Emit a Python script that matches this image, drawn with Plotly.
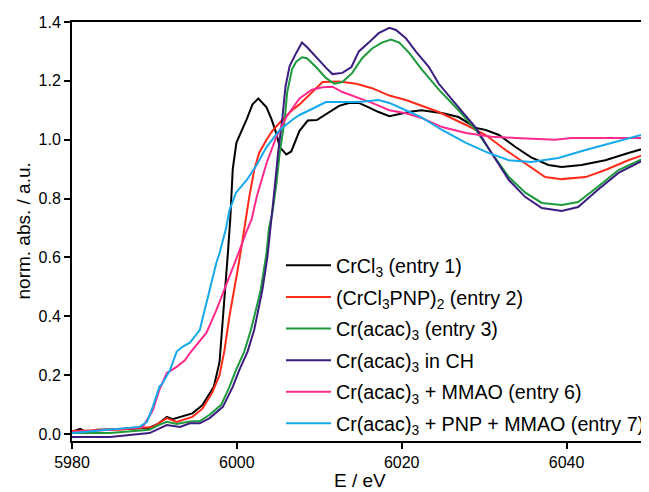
import plotly.graph_objects as go

# ---------------- data ----------------
e_crcl3 = [5980, 5981, 5981.9, 5983, 5986.7, 5989.4, 5990.5, 5991.5, 5992.2, 5994.6, 5995.8,
           5997.2, 5997.9, 5998.3, 5998.6, 5998.9, 5999.2, 5999.5, 5999.95, 6000.6, 6001.2,
           6001.9, 6002.6, 6003.6, 6004.2, 6004.8, 6005.2, 6006.0, 6006.6, 6007.6, 6008.6,
           6009.7, 6011.2, 6012.4, 6013.6, 6014.8, 6016.0, 6017.2, 6018.5, 6019.7, 6021.0,
           6022.4, 6024.1, 6025.0, 6026.9, 6029.0, 6030.2, 6031.8, 6033.8, 6035.7, 6037.8,
           6039.4, 6041.8, 6044.7, 6047.5, 6050]
v_crcl3 = [0.007, 0.017, 0.003, 0.014, 0.017, 0.021, 0.035, 0.058, 0.05, 0.07, 0.097,
           0.16, 0.245, 0.38, 0.5, 0.61, 0.73, 0.90, 0.99, 1.03, 1.07,
           1.12, 1.14, 1.11, 1.07, 1.02, 0.975, 0.95, 0.96, 1.03, 1.065,
           1.067, 1.094, 1.115, 1.125, 1.125, 1.11, 1.094, 1.08, 1.088, 1.095,
           1.10, 1.095, 1.09, 1.077, 1.04, 1.033, 1.016, 0.975, 0.94, 0.914,
           0.907, 0.914, 0.93, 0.955, 0.975]

e_pnp = [5980, 5983, 5986, 5989.8, 5991.5, 5992.7, 5994.6, 5995.8, 5997.0, 5997.9, 5998.5,
         5999.1, 5999.5, 6000.1, 6000.7, 6001.2, 6001.5, 6002.1, 6002.7, 6003.6, 6004.3,
         6005.5, 6006.7, 6007.6, 6009.1, 6010.4, 6012.4, 6014.5, 6016.4, 6018.5, 6020.5,
         6022.4, 6024.5, 6027.8, 6030.2, 6032.6, 6035.0, 6037.4, 6039.4, 6042.3, 6044.7,
         6047.5, 6050]
v_pnp = [0.01, 0.012, 0.015, 0.024, 0.054, 0.041, 0.058, 0.085, 0.14, 0.2, 0.285,
         0.40, 0.46, 0.557, 0.66, 0.76, 0.805, 0.897, 0.955, 1.0, 1.03,
         1.067, 1.10, 1.12, 1.16, 1.196, 1.198, 1.19, 1.175, 1.15, 1.135,
         1.115, 1.094, 1.05, 1.016, 0.965, 0.92, 0.873, 0.866, 0.873, 0.897,
         0.93, 0.955]

e_acac = [5980, 5984.6, 5989.4, 5990.5, 5991.5, 5992.7, 5994.3, 5995.5, 5996.7, 5998.1,
          5999.1, 5999.9, 6000.9, 6001.7, 6002.3, 6002.9, 6003.6, 6003.9, 6004.3, 6004.8,
          6005.2, 6005.8, 6006.1, 6006.7, 6007.2, 6007.9, 6008.5, 6009.6, 6010.8, 6011.8,
          6012.8, 6014.0, 6015.2, 6016.4, 6017.6, 6018.7, 6019.7, 6020.9, 6022.4, 6024.5,
          6026.9, 6029.0, 6030.9, 6033.0, 6035.0, 6037.0, 6039.4, 6041.4, 6043.8, 6046.3,
          6050]
v_acac = [0.003, 0.003, 0.014, 0.03, 0.041, 0.034, 0.042, 0.044, 0.065, 0.099,
          0.16, 0.218, 0.28, 0.353, 0.42, 0.49, 0.615, 0.70, 0.75, 0.85,
          0.955, 1.067, 1.16, 1.24, 1.265, 1.28, 1.277, 1.247, 1.21, 1.19,
          1.196, 1.227, 1.277, 1.31, 1.33, 1.34, 1.33, 1.295, 1.24, 1.17,
          1.10, 1.033, 0.955, 0.873, 0.82, 0.785, 0.778, 0.788, 0.84, 0.897,
          0.945]

e_ch = [5980, 5984.6, 5989.4, 5991.5, 5993.1, 5994.3, 5995.5, 5996.7, 5998.3, 5999.5,
        6000.3, 6001.3, 6002.1, 6002.6, 6003.1, 6003.7, 6004.2, 6004.6, 6005.0, 6005.5,
        6005.9, 6006.4, 6007.2, 6007.9, 6008.5, 6009.6, 6010.8, 6011.6, 6012.8, 6013.9,
        6014.8, 6016.0, 6017.2, 6018.5, 6019.3, 6020.5, 6021.7, 6023.3, 6024.5, 6026.9,
        6029.0, 6030.9, 6033.0, 6035.0, 6037.0, 6039.4, 6041.4, 6043.8, 6046.3, 6050]
v_ch = [-0.01, -0.01, 0.003, 0.03, 0.024, 0.036, 0.036, 0.054, 0.092, 0.16,
        0.218, 0.28, 0.353, 0.42, 0.49, 0.6, 0.727, 0.84, 0.955, 1.067,
        1.18, 1.25, 1.295, 1.33, 1.315, 1.28, 1.245, 1.223, 1.227, 1.247,
        1.30, 1.33, 1.362, 1.38, 1.373, 1.345, 1.30, 1.247, 1.19, 1.11,
        1.04, 0.955, 0.863, 0.805, 0.768, 0.758, 0.771, 0.83, 0.887, 0.94]

e_mmao = [5980, 5984.6, 5988.6, 5989.8, 5990.6, 5991.5, 5992.7, 5993.7, 5994.3, 5996.3,
          5997.5, 5998.5, 6000.0, 6001.2, 6001.8, 6002.4, 6003.6, 6004.8, 6006.0, 6007.6,
          6009.1, 6010.4, 6011.6, 6012.8, 6014.5, 6016.4, 6018.5, 6020.5, 6022.4, 6024.9,
          6027.8, 6030.9, 6033.8, 6038.6, 6040.6, 6050]
v_mmao = [0.007, 0.014, 0.024, 0.08, 0.15, 0.207, 0.228, 0.25, 0.275, 0.343,
          0.42, 0.49, 0.60, 0.69, 0.73, 0.805, 0.92, 1.01, 1.077, 1.14,
          1.17, 1.178, 1.18, 1.162, 1.145, 1.125, 1.10, 1.09, 1.074, 1.043,
          1.023, 1.01, 1.006, 1.0, 1.006, 1.006]

e_pnp_mmao = [5980, 5984.6, 5988.2, 5989.1, 5989.8, 5990.6, 5991.0, 5991.9, 5992.7, 5993.4,
              5994.3, 5995.5, 5996.7, 5997.5, 5997.9, 5998.7, 5999.1, 5999.9, 6001.2, 6002.4,
              6003.6, 6005.2, 6006.7, 6007.6, 6008.8, 6010.8, 6012.8, 6014.8, 6017.2, 6018.5,
              6020.5, 6022.4, 6024.9, 6027.8, 6030.5, 6033.0, 6035.7, 6039.0, 6042.3, 6045.9,
              6050]
v_pnp_mmao = [0.003, 0.014, 0.024, 0.041, 0.092, 0.16, 0.173, 0.217, 0.28, 0.296,
              0.31, 0.353, 0.49, 0.58, 0.615, 0.70, 0.76, 0.82, 0.863, 0.914,
              0.975, 1.033, 1.067, 1.084, 1.10, 1.128, 1.128, 1.128, 1.135, 1.125,
              1.10, 1.076, 1.033, 0.989, 0.955, 0.93, 0.924, 0.938, 0.965, 0.992,
              1.023]

names = [
    "CrCl<sub>3</sub> (entry 1)",
    "(CrCl<sub>3</sub>PNP)<sub>2</sub> (entry 2)",
    "Cr(acac)<sub>3</sub> (entry 3)",
    "Cr(acac)<sub>3</sub> in CH",
    "Cr(acac)<sub>3</sub> + MMAO (entry 6)",
    "Cr(acac)<sub>3</sub> + PNP + MMAO (entry 7)",
]
colors = ["#000000", "#ff2a1a", "#1c9a3c", "#3b1d80", "#ff2a8c", "#14a9ea"]
series = [(e_crcl3, v_crcl3), (e_pnp, v_pnp), (e_acac, v_acac),
          (e_ch, v_ch), (e_mmao, v_mmao), (e_pnp_mmao, v_pnp_mmao)]

xticks = [5980, 6000, 6020, 6040]
yticks = [0.0, 0.2, 0.4, 0.6, 0.8, 1.0, 1.2, 1.4]

FONT = "Arial, Liberation Sans, sans-serif"

# The page body adds an 8 px margin; the figure is sized so the plot lands where the
# reference has it (x 72..649, y 22..441 window pixels).
OFF = 8
PL, PT, PR, PB = 72 - OFF, 22 - OFF, 649 - OFF, 441 - OFF
W, H = PR, 492 - OFF
PW, PH = PR - PL, PB - PT

fig = go.Figure()
for i, ((xs, ys), nm, col) in enumerate(zip(series, names, colors)):
    fig.add_trace(go.Scatter(x=xs, y=ys, mode="lines", name=nm,
                             legendgroup=f"g{i}",
                             line=dict(color=col, width=2)))

fig.update_layout(
    width=W, height=H,
    margin=dict(l=PL, r=W - PR, t=PT, b=H - PB, autoexpand=False),
    paper_bgcolor="white", plot_bgcolor="white",
    font=dict(family=FONT, color="black"),
    showlegend=True,
    legend=dict(x=(281 - 72) / PW, y=(441 - 246) / PH, xanchor="left", yanchor="top",
                font=dict(size=19.7, family=FONT), bgcolor="rgba(0,0,0,0)",
                itemwidth=45, tracegroupgap=3, traceorder="grouped"),
    xaxis=dict(range=[5980, 6050], tickvals=xticks, ticktext=[str(t) for t in xticks],
               ticks="outside", ticklen=6, tickwidth=1.5, tickcolor="black",
               showline=True, linecolor="black", linewidth=2, mirror=True,
               showgrid=False, zeroline=False, automargin=False,
               tickfont=dict(size=16, family=FONT)),
    yaxis=dict(range=[-0.024, 1.4], tickvals=yticks, ticktext=[f"{t:.1f}" for t in yticks],
               ticks="outside", ticklen=6, tickwidth=1.5, tickcolor="black",
               showline=True, linecolor="black", linewidth=2, mirror=False,
               showgrid=False, zeroline=False, automargin=False,
               tickfont=dict(size=16, family=FONT)),
    annotations=[
        dict(text="E / eV", xref="paper", yref="paper", x=(360 - 72) / PW,
             y=-(480 - 441) / PH, xanchor="center", yanchor="middle", showarrow=False,
             font=dict(size=19, family=FONT)),
        dict(text="norm. abs. / a.u.", xref="paper", yref="paper", x=-(72 - 23) / PW,
             y=0.5, xanchor="center", yanchor="middle", textangle=-90, showarrow=False,
             font=dict(size=19, family=FONT)),
    ],
)

fig.write_html("out.html")
